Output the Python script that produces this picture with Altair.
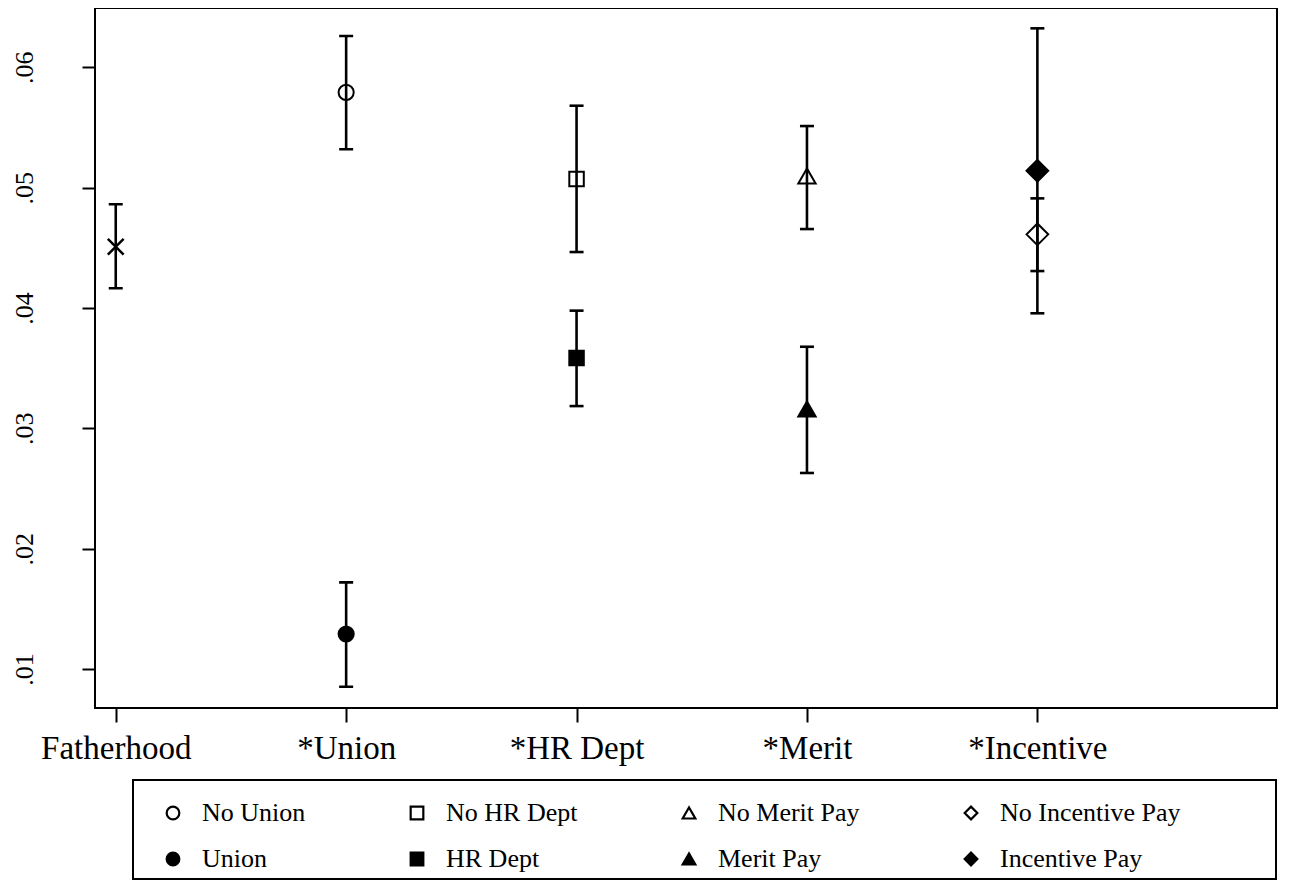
import altair as alt
import pandas as pd

# ---------------- data ----------------
group_labels = ["Fatherhood", "*Union", "*HR Dept", "*Merit", "*Incentive"]
group_pos = [1, 2, 3, 4, 5]

father_pos = [1]
father_est = [0.04509]
father_lo = [0.04164]
father_hi = [0.04862]

series_names = ["No Union", "Union", "No HR Dept", "HR Dept",
                "No Merit Pay", "Merit Pay", "No Incentive Pay", "Incentive Pay"]
series_pos = [2, 2, 3, 3, 4, 4, 5, 5]
series_est = [0.05792, 0.01291, 0.05072, 0.03584, 0.05097, 0.03160, 0.04612, 0.05141]
series_lo = [0.05319, 0.00853, 0.04465, 0.03185, 0.04656, 0.02629, 0.03956, 0.04307]
series_hi = [0.06260, 0.01720, 0.05681, 0.03978, 0.05512, 0.03678, 0.04911, 0.06324]

y_ticks = [0.01, 0.02, 0.03, 0.04, 0.05, 0.06]

# ---------------- tables ----------------
father_df = pd.DataFrame({"pos": father_pos, "est": father_est,
                          "lo": father_lo, "hi": father_hi})
series_df = pd.DataFrame({"series": series_names, "pos": series_pos,
                          "est": series_est, "lo": series_lo, "hi": series_hi})
all_df = pd.concat([father_df, series_df.drop(columns="series")], ignore_index=True)

# ---------------- styles ----------------
FONT = "Liberation Serif"
kinds = ["circle", "square", "triangle-up", "diamond"]
kind_sizes = [230, 210, 300, 470]
shape_range = [k for k in kinds for _ in range(2)]
fill_range = ["transparent", "black"] * 4
stroke_range = ["black"] * 8

xscale = alt.Scale(domain=[0.91, 6.04], nice=False, zero=False)
yscale = alt.Scale(domain=[0.00676, 0.06493], nice=False, zero=False)

label_js = "[" + ",".join("'" + s + "'" for s in group_labels) + "]"
x_axis = alt.Axis(values=group_pos, labelExpr=label_js + "[datum.value - 1]",
                  title=None, labelFontSize=33, labelBaseline="alphabetic",
                  labelPadding=36, tickSize=14, labelFont=FONT)
y_axis = alt.Axis(values=y_ticks,
                  labelExpr="replace(format(datum.value, '.2f'), '0.', '.')",
                  title=None, labelFontSize=26, labelAngle=270,
                  labelAlign="center", labelBaseline="alphabetic",
                  labelPadding=50, tickSize=13, labelFont=FONT)

X = alt.X("pos:Q", scale=xscale, axis=x_axis)

legend = alt.Legend(title=None, orient="none", legendX=65, legendY=792,
                    columns=4, gridAlign="each", columnPadding=98,
                    rowPadding=20, labelOffset=16, symbolSize=160,
                    symbolStrokeWidth=2.2, symbolStrokeColor="black",
                    labelFont=FONT, labelFontSize=26, labelColor="black",
                    labelLimit=600, padding=0)

shape_enc = alt.Shape("series:N", scale=alt.Scale(domain=series_names, range=shape_range),
                      legend=legend)
fill_enc = alt.Fill("series:N", scale=alt.Scale(domain=series_names, range=fill_range),
                    legend=legend)
stroke_enc = alt.Stroke("series:N", scale=alt.Scale(domain=series_names, range=stroke_range),
                        legend=legend)

# ---------------- layers ----------------
bars = alt.Chart(all_df).mark_rule(color="black", strokeWidth=2.6).encode(
    x=X,
    y=alt.Y("lo:Q", scale=yscale, axis=y_axis),
    y2="hi:Q",
)
cap_lo = alt.Chart(all_df).mark_tick(color="black", orient="horizontal",
                                     size=14, thickness=2.6, opacity=1).encode(
    x=X, y=alt.Y("lo:Q", scale=yscale, axis=y_axis))
cap_hi = alt.Chart(all_df).mark_tick(color="black", orient="horizontal",
                                     size=14, thickness=2.6, opacity=1).encode(
    x=X, y=alt.Y("hi:Q", scale=yscale, axis=y_axis))

father_pt = alt.Chart(father_df).mark_point(
    shape="M-1,-1L1,1M-1,1L1,-1", size=250, stroke="black",
    strokeWidth=2.5, filled=False, opacity=1).encode(
    x=X, y=alt.Y("est:Q", scale=yscale, axis=y_axis))

point_layers = []
for i, kind in enumerate(kinds):
    pair = [series_names[2 * i], series_names[2 * i + 1]]
    point_layers.append(
        alt.Chart(series_df)
        .transform_filter(alt.FieldOneOfPredicate(field="series", oneOf=pair))
        .mark_point(size=kind_sizes[i], strokeWidth=2, opacity=1)
        .encode(x=X, y=alt.Y("est:Q", scale=yscale, axis=y_axis),
                shape=shape_enc, fill=fill_enc, stroke=stroke_enc)
    )

legend_box = alt.Chart(pd.DataFrame({"k": [0]})).mark_rect(
    fill="transparent", stroke="black", strokeWidth=2).encode(
    x=alt.value(38), x2=alt.value(1181), y=alt.value(772), y2=alt.value(871))

chart = alt.layer(bars, cap_lo, cap_hi, father_pt, *point_layers, legend_box).properties(
    width=1182, height=700,
    autosize=alt.AutoSizeParams(type="none"),
    padding={"left": 87, "top": 0, "right": 4, "bottom": 172},
    background="white",
).configure_view(stroke="black", strokeWidth=2).configure_axis(
    grid=False, domain=False, tickColor="black", tickWidth=2,
    labelColor="black", labelFont=FONT,
)

chart.save("out.html", embed_options={"renderer": "svg", "actions": False})
